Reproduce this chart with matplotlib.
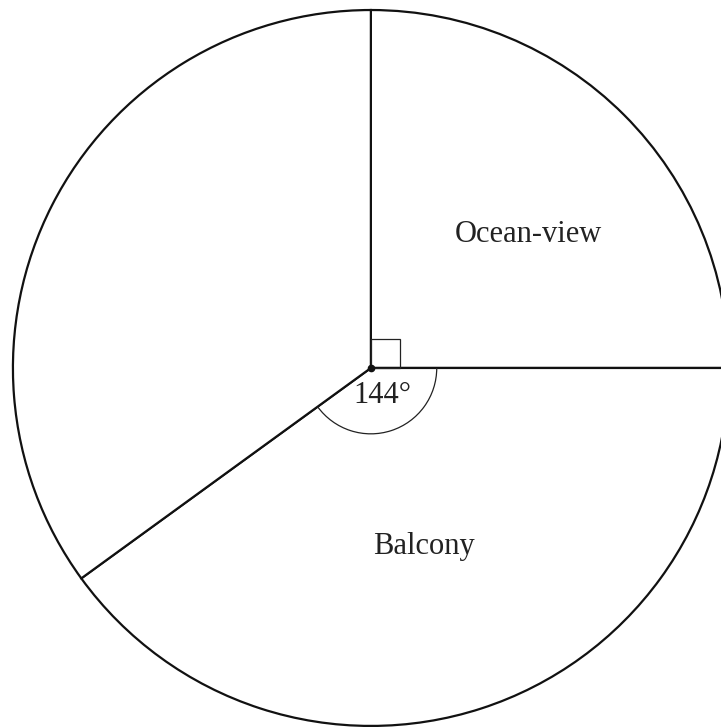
import matplotlib

matplotlib.use("Agg")
import matplotlib.pyplot as plt
from matplotlib.patches import Arc, Rectangle

# sectors go clockwise from 12 o'clock
labels = ["Ocean-view", "Balcony", ""]
degrees = [90, 144, 126]
angle_label = "144\u00b0"

plt.rcParams["font.family"] = ["Liberation Serif", "DejaVu Serif"]

fig = plt.figure(figsize=(7.21, 7.27), dpi=100)
ax = fig.add_axes([0, 0, 1, 1])

ax.pie(
    degrees,
    startangle=90,
    counterclock=False,
    radius=1.0,
    colors=["white"] * len(degrees),
    wedgeprops={"edgecolor": "#111111", "linewidth": 1.6},
)

# right-angle marker on the Ocean-view sector
ax.add_patch(Rectangle((0, 0), 0.081, 0.081, fill=False, edgecolor="#222222", linewidth=0.9))
# arc marking the Balcony angle
ax.add_patch(Arc((0, 0), 0.368, 0.368, theta1=-degrees[1], theta2=0,
                 edgecolor="#222222", linewidth=0.9))
ax.plot([0], [0], marker="o", markersize=4.5, color="#111111")

ax.text(0.439, 0.374, labels[0], fontsize=22, ha="center", va="center", color="#222222")
ax.text(0.148, -0.50, labels[1], fontsize=22, ha="center", va="center", color="#222222")
ax.text(0.031, -0.078, angle_label, fontsize=22, ha="center", va="center", color="#222222")

ax.set_xlim(-1.036, 0.978)
ax.set_ylim(-1.003, 1.028)
ax.set_aspect("equal")
ax.axis("off")

fig.savefig("out.png", dpi=100)
